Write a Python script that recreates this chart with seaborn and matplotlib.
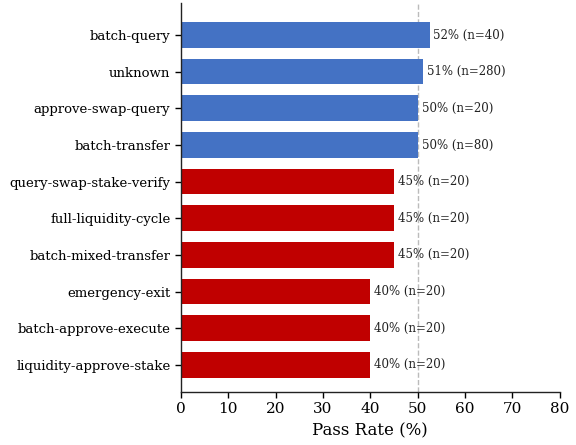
import matplotlib
matplotlib.use("Agg")
import matplotlib.pyplot as plt
import seaborn as sns
import pandas as pd

workflows = [
    "batch-query", "unknown", "approve-swap-query", "batch-transfer",
    "query-swap-stake-verify", "full-liquidity-cycle", "batch-mixed-transfer",
    "emergency-exit", "batch-approve-execute", "liquidity-approve-stake",
]
passed = [21, 143, 10, 40, 9, 9, 9, 8, 8, 8]
totals = [40, 280, 20, 80, 20, 20, 20, 20, 20, 20]

rates = [100.0 * p / n for p, n in zip(passed, totals)]
df = pd.DataFrame({"workflow": workflows, "rate": rates, "n": totals})

sns.set_style("white")
plt.rcParams["font.family"] = ["DejaVu Serif"]
plt.rcParams.update({
    "text.color": "black",
    "axes.labelcolor": "black",
    "xtick.color": "black",
    "ytick.color": "black",
})

BLUE = "#4472C4"
RED = "#C00000"
colors = [BLUE if r >= 50 else RED for r in rates]

fig = plt.figure(figsize=(5.76, 4.45), dpi=100)
ax = fig.add_axes([0.314, 0.119, 0.658, 0.874])

sns.barplot(data=df, x="rate", y="workflow", hue="workflow", palette=colors,
            legend=False, width=0.7, saturation=1, linewidth=0, ax=ax, orient="h")

for i, (r, n) in enumerate(zip(rates, totals)):
    ax.text(r + 0.8, i, f"{r:.0f}% (n={n})", va="center", ha="left",
            fontsize=8.5, color="#222222")

ax.axvline(50, color="#bbbbbb", linestyle="--", linewidth=1, zorder=0)

ax.set_xlim(0, 80)
ax.set_ylim(9.74, -0.87)
ax.set_xticks(range(0, 81, 10))
ax.set_xlabel("Pass Rate (%)", fontsize=12)
ax.set_ylabel("")
ax.tick_params(axis="x", labelsize=11, length=4, width=1, bottom=True)
ax.tick_params(axis="y", labelsize=9.5, length=4, width=1, left=True)
sns.despine(ax=ax)
for s in ("left", "bottom"):
    ax.spines[s].set_color("#222222")
    ax.spines[s].set_linewidth(1)

fig.savefig("out.png", dpi=100)
